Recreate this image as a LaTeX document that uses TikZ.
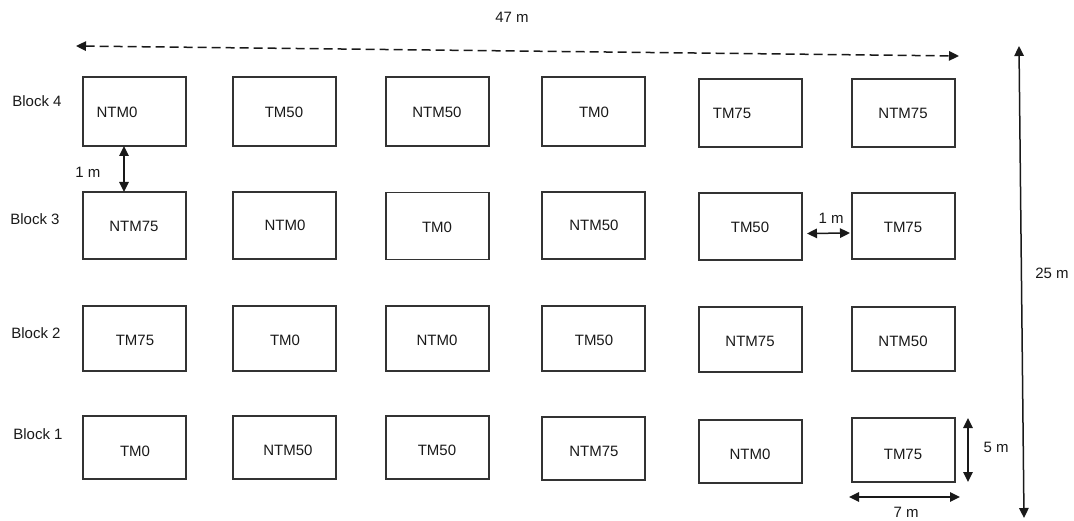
\documentclass[tikz,border=0pt]{standalone}
\usepackage{fontspec}
\setmainfont{Liberation Sans}
\usetikzlibrary{arrows.meta}
\begin{document}
\begin{tikzpicture}[x=1pt,y=-1pt,
  plotbox/.style={draw=black!80, line width=1.1pt, minimum width=103pt, inner sep=0pt, outer sep=0pt},
  lbl/.style={font=\fontsize{15}{17}\selectfont, text=black!90, inner sep=0pt},
  tip/.tip={Triangle[length=10pt,width=9.5pt]},
  dimarrow/.style={line width=1.5pt, draw=black!90, {tip}-{tip}}]
\useasboundingbox (0,0) rectangle (1074,521);
% Block 4
\node[plotbox, minimum height=69pt] (b41) at (134.5,111.5) {};
\node[plotbox, minimum height=69pt] (b42) at (284.5,111.5) {};
\node[plotbox, minimum height=69pt] (b43) at (437.5,111.5) {};
\node[plotbox, minimum height=69pt] (b44) at (593.5,111.5) {};
\node[plotbox, minimum height=68pt] (b45) at (750.5,113) {};
\node[plotbox, minimum height=68pt] (b46) at (903.5,113) {};
% Block 3
\node[plotbox, minimum height=67pt] (b31) at (134.5,225.5) {};
\node[plotbox, minimum height=67pt] (b32) at (284.5,225.5) {};
\node[plotbox, minimum height=67pt] (b33) at (437.5,226) {};
\node[plotbox, minimum height=67pt] (b34) at (593.5,225.5) {};
\node[plotbox, minimum height=67pt] (b35) at (750.5,226.5) {};
\node[plotbox, minimum height=66pt] (b36) at (903.5,226) {};
% Block 2
\node[plotbox, minimum height=65pt] (b21) at (134.5,338.5) {};
\node[plotbox, minimum height=65pt] (b22) at (284.5,338.5) {};
\node[plotbox, minimum height=65pt] (b23) at (437.5,338.5) {};
\node[plotbox, minimum height=65pt] (b24) at (593.5,338.5) {};
\node[plotbox, minimum height=65pt] (b25) at (750.5,339.5) {};
\node[plotbox, minimum height=64pt] (b26) at (903.5,339) {};
% Block 1
\node[plotbox, minimum height=63pt] (b11) at (134.5,447.5) {};
\node[plotbox, minimum height=63pt] (b12) at (284.5,447.5) {};
\node[plotbox, minimum height=63pt] (b13) at (437.5,447.5) {};
\node[plotbox, minimum height=63pt] (b14) at (593.5,448.5) {};
\node[plotbox, minimum height=63pt] (b15) at (750.5,451.5) {};
\node[plotbox, minimum height=64pt] (b16) at (903.5,450) {};
% texts
\node[lbl] (t41) at (117,112) {NTM0};
\node[lbl] (t42) at (284,112) {TM50};
\node[lbl] (t43) at (437,112) {NTM50};
\node[lbl] (t44) at (594,112) {TM0};
\node[lbl] (t45) at (732,113) {TM75};
\node[lbl] (t46) at (903,113) {NTM75};
\node[lbl] (t31) at (134,226) {NTM75};
\node[lbl] (t32) at (285,225) {NTM0};
\node[lbl] (t33) at (437,227) {TM0};
\node[lbl] (t34) at (594,225) {NTM50};
\node[lbl] (t35) at (750,227) {TM50};
\node[lbl] (t36) at (903,227) {TM75};
\node[lbl] (t21) at (135,340) {TM75};
\node[lbl] (t22) at (285,340) {TM0};
\node[lbl] (t23) at (437,340) {NTM0};
\node[lbl] (t24) at (594,340) {TM50};
\node[lbl] (t25) at (750,341) {NTM75};
\node[lbl] (t26) at (903,341) {NTM50};
\node[lbl] (t11) at (135,451) {TM0};
\node[lbl] (t12) at (288,450) {NTM50};
\node[lbl] (t13) at (437,450) {TM50};
\node[lbl] (t14) at (594,451) {NTM75};
\node[lbl] (t15) at (750,454) {NTM0};
\node[lbl] (t16) at (903,454) {TM75};
% block labels
\node[lbl] (bl4) at (37,101) {Block 4};
\node[lbl] (bl3) at (35,219) {Block 3};
\node[lbl] (bl2) at (36,333) {Block 2};
\node[lbl] (bl1) at (38,434) {Block 1};
% dimensions
\coordinate (wl) at (76,46);
\coordinate (wr) at (959,56);
\draw[dimarrow, dash pattern=on 9pt off 5pt] (wl) -- (wr);
\node[lbl] (w47) at (512,17) {47 m};
\coordinate (ht) at (1019,46);
\coordinate (hb) at (1024,518);
\draw[dimarrow] (ht) -- (hb);
\node[lbl] (h25) at (1052,273) {25 m};
\draw[dimarrow] ([xshift=-10.5pt]b41.south) -- ([xshift=-10.5pt]b31.north);
\node[lbl] (g1) at (88,172) {1 m};
\draw[dimarrow] ([xshift=5pt,yshift=-7pt]b35.east) -- ([xshift=-2pt,yshift=-7pt]b36.west);
\node[lbl] (g2) at (831,218) {1 m};
\draw[dimarrow] ([xshift=13pt]b16.north east) -- ([xshift=13pt]b16.south east);
\node[lbl] (d5) at (996,447) {5 m};
\draw[dimarrow] ([xshift=-3pt,yshift=-15pt]b16.south west) -- ([xshift=5pt,yshift=-15pt]b16.south east);
\node[lbl] (d7) at (906,512) {7 m};
\end{tikzpicture}
\end{document}
